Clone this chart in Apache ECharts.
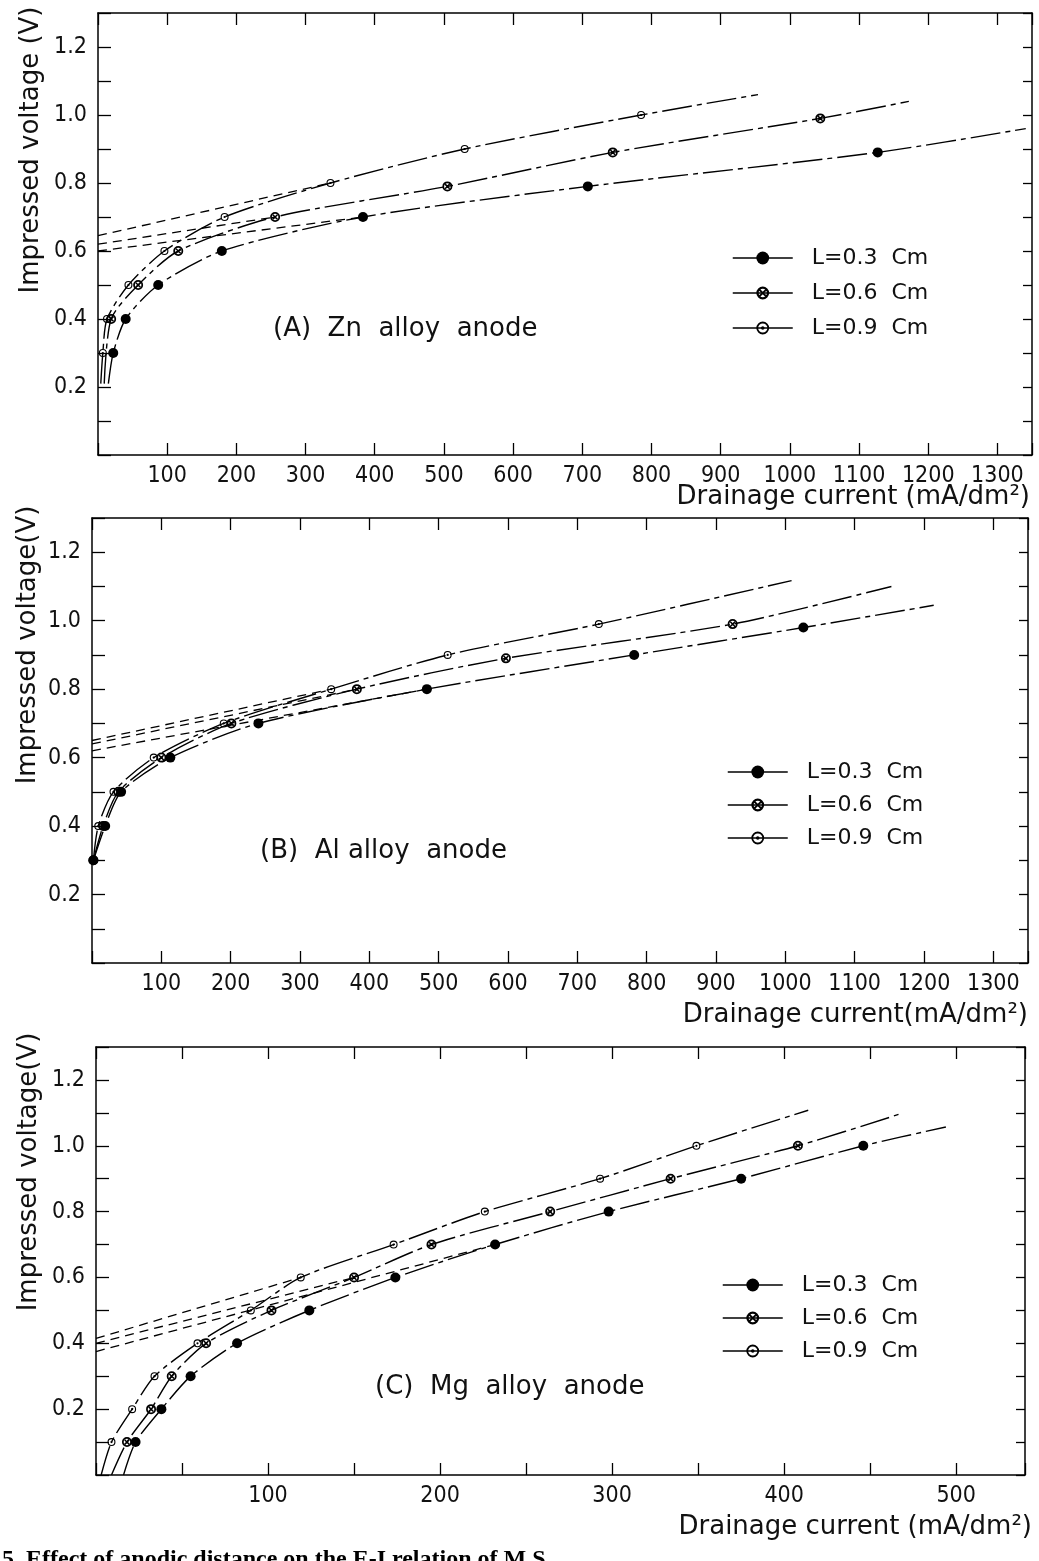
<!DOCTYPE html>
<html><head><meta charset="utf-8">
<script src="https://cdn.jsdelivr.net/npm/echarts@6/dist/echarts.min.js"></script>
<style>html,body{margin:0;padding:0;background:#fff}#c{width:1039px;height:1561px}</style>
</head><body><div id="c"></div>
<script>
// ---------------- DATA ----------------
const SERIES_NAMES = ['L=0.3 Cm', 'L=0.6 Cm', 'L=0.9 Cm'];
const LEGEND_TEXT = ['L=0.3  Cm', 'L=0.6  Cm', 'L=0.9  Cm'];
const X_LABELS_AB = [100, 200, 300, 400, 500, 600, 700, 800, 900, 1000, 1100, 1200, 1300];
const X_LABELS_C = [100, 200, 300, 400, 500];
const Y_LABELS = [0.2, 0.4, 0.6, 0.8, 1.0, 1.2];

// (A) Zn alloy anode : measured points [current mA/dm2, voltage V]
const zn_L03 = [[22,0.3],[40,0.4],[87,0.5],[179,0.6],[383,0.7],[708,0.79],[1127,0.89]];
const zn_L06 = [[19,0.4],[58,0.5],[116,0.6],[256,0.7],[505,0.79],[744,0.89],[1044,0.99]];
const zn_L09 = [[7,0.3],[13,0.4],[44,0.5],[96,0.6],[183,0.7],[336,0.8],[530,0.9],[785,1.0]];
// where each drawn curve starts / ends
const zn_L03_ends = [[15,0.21],[1341,0.96]];
const zn_L06_ends = [[9,0.21],[1172,1.04]];
const zn_L09_ends = [[4,0.21],[954,1.06]];
// dashed extrapolation back to zero current
const zn_L03_ext = [[0,0.60],[383,0.70]];
const zn_L06_ext = [[0,0.62],[256,0.70]];
const zn_L09_ext = [[0,0.645],[336,0.80]];

// (B) Al alloy anode
const al_L03 = [[2,0.3],[19,0.4],[42,0.5],[113,0.6],[240,0.7],[483,0.8],[782,0.9],[1026,0.98]];
const al_L06 = [[2,0.3],[16,0.4],[38,0.5],[100,0.6],[201,0.7],[382,0.8],[597,0.89],[924,0.99]];
const al_L09 = [[2,0.3],[9,0.4],[31,0.5],[89,0.6],[190,0.7],[345,0.8],[513,0.9],[731,0.99]];
const al_L03_ends = [null,[1214,1.045]];
const al_L06_ends = [null,[1153,1.10]];
const al_L09_ends = [null,[1009,1.117]];
const al_L03_ext = [[0,0.62],[483,0.80]];
const al_L06_ext = [[0,0.64],[382,0.80]];
const al_L09_ext = [[0,0.65],[345,0.80]];

// (C) Mg alloy anode
const mg_L03 = [[23,0.1],[38,0.2],[55,0.3],[82,0.4],[124,0.5],[174,0.6],[232,0.7],[298,0.8],[375,0.9],[446,1.0]];
const mg_L06 = [[18,0.1],[32,0.2],[44,0.3],[64,0.4],[102,0.5],[150,0.6],[195,0.7],[264,0.8],[334,0.9],[408,1.0]];
const mg_L09 = [[9,0.1],[21,0.2],[34,0.3],[59,0.4],[90,0.5],[119,0.6],[173,0.7],[226,0.8],[293,0.9],[349,1.0]];
const mg_L03_ends = [[16,0],[494,1.057]];
const mg_L06_ends = [[9,0],[467,1.096]];
const mg_L09_ends = [[3,0],[414,1.108]];
const mg_L03_ext = [[0,0.375],[232,0.70]];
const mg_L06_ext = [[0,0.40],[150,0.60]];
const mg_L09_ext = [[0,0.415],[119,0.60]];

// ---------------- STYLE ----------------
const FONT = 'DejaVu Sans Condensed, DejaVu Sans, sans-serif';
const FONT_W = 'DejaVu Sans, sans-serif';
const SYM_FILLED = 'circle';
const SYM_CROSS = 'path://M10 0A10 10 0 1 1 9.99 0Z M10 3.5A6.5 6.5 0 1 0 10.01 3.5Z M6.46 4.34L15.66 13.54L13.54 15.66L4.34 6.46Z M13.54 4.34L15.66 6.46L6.46 15.66L4.34 13.54Z';
const SYM_DOT = 'path://M10 0A10 10 0 1 1 9.99 0Z M10 2.8A7.2 7.2 0 1 0 10.01 2.8Z M10 7.2A2.8 2.8 0 1 1 9.99 7.2Z';
const SYMS = [SYM_FILLED, SYM_CROSS, SYM_DOT];
const SYM_SIZES = [10, 10, 8];

const GRIDS = [
  {left: 98, top: 13, width: 934, height: 442},
  {left: 92, top: 518, width: 936, height: 445},
  {left: 96, top: 1047, width: 929, height: 428}
];
const XMAX = [1350, 1350, 540];
const XINT = [100, 100, 50];
const XLAB = [X_LABELS_AB, X_LABELS_AB, X_LABELS_C];

const xAxes = [], yAxes = [];
GRIDS.forEach((g, i) => {
  const base = {gridIndex: i, type: 'value', min: 0, max: XMAX[i], interval: XINT[i],
    splitLine: {show: false},
    axisLine: {onZero: false, lineStyle: {color: '#000', width: 1.5}}};
  xAxes.push(Object.assign({}, base, {position: 'bottom',
    axisTick: {inside: true, length: 12, lineStyle: {color: '#000', width: 1.3}},
    axisLabel: {margin: 10, fontSize: 23, color: '#111', fontFamily: FONT,
      formatter: v => XLAB[i].includes(v) ? String(v) : ''}}));
  xAxes.push(Object.assign({}, base, {position: 'top',
    axisTick: {inside: true, length: 12, lineStyle: {color: '#000', width: 1.3}},
    axisLabel: {show: false}}));
  const ybase = {gridIndex: i, type: 'value', min: 0, max: 1.3, interval: 0.1,
    splitLine: {show: false},
    axisLine: {onZero: false, lineStyle: {color: '#000', width: 1.5}}};
  yAxes.push(Object.assign({}, ybase, {position: 'left',
    axisTick: {inside: true, length: 13, lineStyle: {color: '#000', width: 1.3}},
    axisLabel: {margin: 11, fontSize: 23, color: '#111', fontFamily: FONT,
      formatter: v => {
        const t = Math.round(v * 10) / 10;
        return Y_LABELS.some(y => Math.abs(y - t) < 1e-6) ? t.toFixed(1) : '';
      }}}));
  yAxes.push(Object.assign({}, ybase, {position: 'right',
    axisTick: {inside: true, length: 9, lineStyle: {color: '#000', width: 1.3}},
    axisLabel: {show: false}}));
});

const series = [];
function addCurve(gi, si, pts, ends, ext) {
  const data = [];
  if (ends[0]) data.push({value: ends[0], symbol: 'none'});
  pts.forEach(p => data.push(p));
  if (ends[1]) data.push({value: ends[1], symbol: 'none'});
  series.push({
    name: SERIES_NAMES[si], type: 'line', xAxisIndex: gi * 2, yAxisIndex: gi * 2,
    data: data, smooth: 0.25,
    symbol: SYMS[si], symbolSize: SYM_SIZES[si], showSymbol: true,
    itemStyle: {color: '#000'},
    lineStyle: {color: '#000', width: 1.4, type: [30, 5, 5, 5]},
    z: 3 + (2 - si)
  });
  series.push({
    name: SERIES_NAMES[si] + ' extrapolated', type: 'line', xAxisIndex: gi * 2, yAxisIndex: gi * 2,
    data: ext, symbol: 'none', silent: true,
    lineStyle: {color: '#000', width: 1.3, type: [9, 6]}, z: 2
  });
}
addCurve(0, 0, zn_L03, zn_L03_ends, zn_L03_ext);
addCurve(0, 1, zn_L06, zn_L06_ends, zn_L06_ext);
addCurve(0, 2, zn_L09, zn_L09_ends, zn_L09_ext);
addCurve(1, 0, al_L03, al_L03_ends, al_L03_ext);
addCurve(1, 1, al_L06, al_L06_ends, al_L06_ext);
addCurve(1, 2, al_L09, al_L09_ends, al_L09_ext);
addCurve(2, 0, mg_L03, mg_L03_ends, mg_L03_ext);
addCurve(2, 1, mg_L06, mg_L06_ends, mg_L06_ext);
addCurve(2, 2, mg_L09, mg_L09_ends, mg_L09_ext);

function mkLegend(left, top, gap) {
  return {orient: 'vertical', left: left, top: top, itemWidth: 60, itemHeight: 16, itemGap: gap,
    selectedMode: false, data: SERIES_NAMES,
    formatter: n => LEGEND_TEXT[SERIES_NAMES.indexOf(n)],
    lineStyle: {type: 'solid', width: 1.5},
    textStyle: {fontSize: 22, color: '#111', fontFamily: FONT_W, padding: [0, 0, 0, 14]}};
}

const NAME_FONT = '26px "DejaVu Sans", sans-serif';
function vText(x, y, t) {
  return {type: 'text', x: x, y: y, rotation: Math.PI / 2,
    style: {text: t, fill: '#111', font: NAME_FONT, textAlign: 'center', textVerticalAlign: 'middle'}};
}
function hText(x, y, t, align, font) {
  return {type: 'text', x: x, y: y,
    style: {text: t, fill: '#111', font: font || NAME_FONT, textAlign: align || 'left', textVerticalAlign: 'middle'}};
}

const option = {
  animation: false,
  backgroundColor: '#fff',
  grid: GRIDS,
  xAxis: xAxes,
  yAxis: yAxes,
  legend: [mkLegend(727, 242, 13), mkLegend(722, 756, 11), mkLegend(717, 1269, 11)],
  series: series,
  graphic: [
    vText(31, 150, 'Impressed voltage (V)'),
    vText(28, 645, 'Impressed voltage(V)'),
    vText(29, 1172, 'Impressed voltage(V)'),
    hText(1030, 497, 'Drainage current (mA/dm²)', 'right'),
    hText(1028, 1015, 'Drainage current(mA/dm²)', 'right'),
    hText(1032, 1527, 'Drainage current (mA/dm²)', 'right'),
    hText(273, 329, '(A)  Zn  alloy  anode'),
    hText(260, 851, '(B)  Al alloy  anode'),
    hText(375, 1387, '(C)  Mg  alloy  anode'),
    {type: 'text', x: 2, y: 1548, style: {text: '5. Effect of anodic distance on the E-I relation of M.S.',
      fill: '#000', font: 'bold 24px "Liberation Serif", serif', textVerticalAlign: 'top'}}
  ]
};
echarts.init(document.getElementById('c')).setOption(option);
</script>
</body></html>
